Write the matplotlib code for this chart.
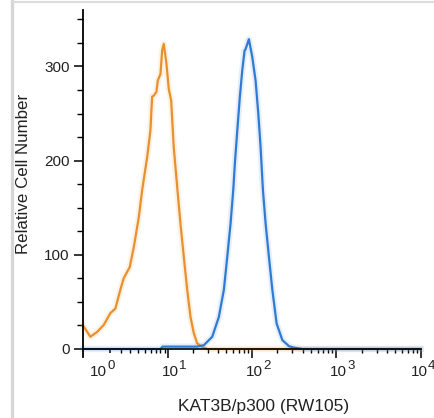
import numpy as np
import matplotlib
matplotlib.use("Agg")
from matplotlib import pyplot as plt
from matplotlib.lines import Line2D
from matplotlib.ticker import FixedLocator, NullFormatter

plt.rcParams['font.family'] = ['Liberation Sans', 'DejaVu Sans']

# isotype control (orange) and KAT3B/p300 stained cells (blue)
orange_x = [-1.25, -0.62, -0.07, 0.48, 1.04, 1.49, 1.96, 2.29, 2.95, 3.43, 4.09,
            4.58, 5.37, 5.93, 6.25, 6.56, 7.11, 7.39, 8.0, 8.4, 8.8, 9.51,
            10.16, 10.87, 11.7, 12.88, 14.12, 15.48, 17.02, 18.65, 20.4, 22.4,
            25.7, 30, 100, 1000, 10000]
orange_y = [25, 13, 18, 25.5, 38, 43, 63, 75, 87, 108, 140,
            169, 204, 232, 268, 269, 273, 285, 292, 317, 324, 303,
            276, 264, 214, 172, 133, 98, 63, 34, 17, 6,
            2, 0, 0, 0, 0]

blue_x = [-1.25, 8.0, 8.5, 22.4, 26.9, 33.9, 40.6, 46.6, 51.1, 55.9, 60.2,
          62.9, 67.2, 72.1, 77.0, 82.0, 84.0, 92.2, 101.2, 110.7, 119.2,
          127.0, 135.2, 145.6, 159.3, 174.8, 196.6, 229.7, 275, 312.7, 400,
          10000]
blue_y = [0, 0, 2.5, 2.5, 4, 13, 34, 63, 98, 133, 169,
          197, 232, 268, 296, 317, 318, 329, 310, 285, 250,
          214, 169, 133, 98, 63, 27, 9.5, 3, 1.5, 0,
          0]

major_x = [1, 10, 100, 1000, 10000]
major_exp = ['0', '1', '2', '3', '4']
minor_x = [k * 10 ** n for n in range(4) for k in range(2, 10)]
y_ticks = [0, 100, 200, 300]
y_minor = list(range(0, 375, 25))

orange = '#e8912c'
blue = '#2f7bd3'
text_col = '#222222'


def fwd(x):
    return np.arcsinh(np.asarray(x) / 3.0)


def inv(t):
    return 3.0 * np.sinh(np.asarray(t))


fig = plt.figure(figsize=(4.35, 4.18), dpi=100)
ax = fig.add_axes([0.1908, 0.1651, 0.7763, 0.811])

for xs, ys, c in [(orange_x, orange_y, orange), (blue_x, blue_y, blue)]:
    ax.plot(xs, ys, color=c, lw=4.5, alpha=0.12, solid_joinstyle='round', clip_on=False)
    ax.plot(xs, ys, color=c, lw=1.6, solid_joinstyle='round', clip_on=False)

ax.set_xscale('function', functions=(fwd, inv))
ax.set_xlim(-1.25, 10000)
ax.set_ylim(0, 360)

ax.xaxis.set_major_locator(FixedLocator(major_x))
ax.xaxis.set_major_formatter(NullFormatter())
ax.xaxis.set_minor_locator(FixedLocator(minor_x))
ax.xaxis.set_minor_formatter(NullFormatter())
ax.set_yticks(y_ticks)
ax.set_yticklabels([str(v) for v in y_ticks], fontsize=11, color=text_col)
ax.yaxis.set_minor_locator(FixedLocator(y_minor))

ax.tick_params(axis='x', which='major', length=6.5, width=1.1)
ax.tick_params(axis='x', which='minor', length=3, width=1.0)
ax.tick_params(axis='y', which='major', length=6.5, width=1.1, pad=3)
ax.tick_params(axis='y', which='minor', length=4, width=1.0)
ax.xaxis.get_major_ticks()[0].tick1line.set_markersize(3)

# decade labels: "10" with a raised exponent
shifts = [-8.3, 1.7, 1.7, 1.7, -1.2]
for xv, e, shift in zip(major_x, major_exp, shifts):
    ax.annotate('10', xy=(xv, 0), xycoords=('data', 'axes fraction'),
                xytext=(shift, -19.4), textcoords='offset points',
                ha='center', va='baseline', fontsize=11, color=text_col,
                annotation_clip=False)
    ax.annotate(e, xy=(xv, 0), xycoords=('data', 'axes fraction'),
                xytext=(shift + 6.3, -14.6), textcoords='offset points',
                ha='left', va='baseline', fontsize=9.5, color=text_col,
                annotation_clip=False)

for side in ['top', 'right']:
    ax.spines[side].set_visible(False)
ax.spines['left'].set_linewidth(1.3)
ax.spines['bottom'].set_linewidth(1.2)
ax.spines['left'].set_bounds(-9, 360)

ax.set_xlabel('KAT3B/p300 (RW105)', fontsize=12.5, color=text_col)
ax.xaxis.set_label_coords((264 - 83) / 337.7, -0.148)
ax.set_ylabel('Relative Cell Number', fontsize=12.2, color=text_col)
ax.yaxis.set_label_coords(-0.153, 0.516)

# light grey page border
fig.add_artist(Line2D([12.5 / 435, 12.5 / 435], [0, 1], color='#d6d6d6', lw=2.4,
                      transform=fig.transFigure))
fig.add_artist(Line2D([12.5 / 435, 1], [1 - 1.5 / 418, 1 - 1.5 / 418], color='#dcdcdc',
                      lw=1.5, transform=fig.transFigure))

fig.savefig('out.png', dpi=100)
